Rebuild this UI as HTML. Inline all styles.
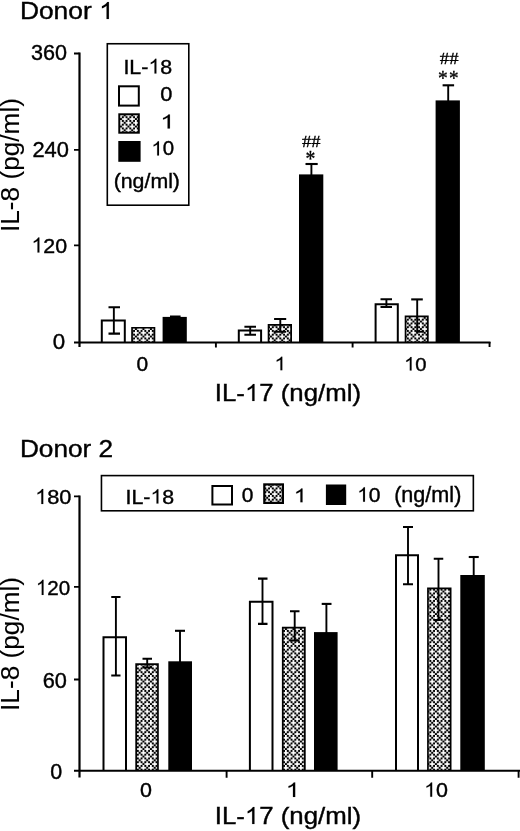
<!DOCTYPE html>
<html><head><meta charset="utf-8"><title>Figure</title>
<style>
html,body{margin:0;padding:0;background:#fff}
svg{display:block;filter:grayscale(1) blur(0.35px)}
text{font-family:"Liberation Sans",sans-serif;fill:#000;stroke:#000;stroke-width:0.4px}
.yl text{stroke-width:0.08px}
text.s{font-family:"Liberation Serif",serif;stroke-width:0.35px}
</style></head><body>
<svg width="520" height="831" viewBox="0 0 520 831">
<defs>
<pattern id="pt" width="7.5" height="7.5" patternUnits="userSpaceOnUse">
<rect width="7.5" height="7.5" fill="#fff"/><rect x="1.775" y="-0.100" width="2.075" height="2.075" fill="#000"/><rect x="5.525" y="-0.100" width="2.075" height="2.075" fill="#000"/><rect x="3.650" y="1.775" width="2.075" height="2.075" fill="#000"/><rect x="1.775" y="3.650" width="2.075" height="2.075" fill="#000"/><rect x="5.525" y="3.650" width="2.075" height="2.075" fill="#000"/><rect x="-0.100" y="5.525" width="2.075" height="2.075" fill="#000"/><rect x="7.400" y="5.525" width="0.100" height="2.075" fill="#000"/><rect x="1.775" y="7.400" width="2.075" height="0.100" fill="#000"/><rect x="5.525" y="7.400" width="2.075" height="0.100" fill="#000"/>
</pattern>
</defs>
<rect width="520" height="831" fill="#fff"/>
<g transform="translate(19.89,19.06) scale(1.1112,1)"><text x="0.00" y="0" font-size="23.74">Donor</text><path transform="translate(71.25,0) scale(0.01159)" d="M763 0H583V-1147Q518 -1085 412.5 -1023Q307 -961 223 -930V-1104Q374 -1175 487 -1276Q600 -1377 647 -1472H763Z" fill="#000" stroke="#000" stroke-width="10.4"/></g>
<rect x="101.80" y="320.60" width="23.00" height="21.40" fill="#fff"/>
<path d="M101.80 342.0V320.60H124.80V342.0" fill="none" stroke="#000" stroke-width="2.0"/>
<path d="M113.85 307.3V333.65" stroke="#000" stroke-width="1.9" fill="none"/>
<path d="M108.5 307.3H120M108.5 333.65H120" stroke="#000" stroke-width="2.1" fill="none"/>
<rect x="132.05" y="327.75" width="22.40" height="14.25" fill="url(#pt)"/>
<path d="M132.05 342.0V327.75H154.45V342.0" fill="none" stroke="#000" stroke-width="1.7"/>
<rect x="162.60" y="316.90" width="24.20" height="25.10" fill="#000"/>
<path d="M170 316.3H180.6" stroke="#000" stroke-width="1.6"/>
<rect x="238.80" y="330.50" width="22.30" height="11.50" fill="#fff"/>
<path d="M238.80 342.0V330.50H261.10V342.0" fill="none" stroke="#000" stroke-width="2.0"/>
<path d="M250.2 326.7V334.8" stroke="#000" stroke-width="1.9" fill="none"/>
<path d="M244.4 326.7H256M244.4 334.8H256" stroke="#000" stroke-width="2.1" fill="none"/>
<rect x="268.55" y="324.95" width="22.60" height="17.05" fill="url(#pt)"/>
<path d="M268.55 342.0V324.95H291.15V342.0" fill="none" stroke="#000" stroke-width="1.7"/>
<path d="M280.3 319V331.8" stroke="#000" stroke-width="1.9" fill="none"/>
<path d="M274.1 319H286.2M274.1 331.8H286.2" stroke="#000" stroke-width="2.1" fill="none"/>
<rect x="299.00" y="174.40" width="24.30" height="167.60" fill="#000"/>
<path d="M311.4 164V175" stroke="#000" stroke-width="1.9" fill="none"/>
<path d="M305.5 164H317.7" stroke="#000" stroke-width="2.1" fill="none"/>
<rect x="375.60" y="304.20" width="22.20" height="37.80" fill="#fff"/>
<path d="M375.60 342.0V304.20H397.80V342.0" fill="none" stroke="#000" stroke-width="2.0"/>
<path d="M386.4 299.3V307" stroke="#000" stroke-width="1.9" fill="none"/>
<path d="M380.5 299.3H392M380.5 307H392" stroke="#000" stroke-width="2.1" fill="none"/>
<rect x="405.55" y="316.35" width="22.30" height="25.65" fill="url(#pt)"/>
<path d="M405.55 342.0V316.35H427.85V342.0" fill="none" stroke="#000" stroke-width="1.7"/>
<path d="M417.2 299.4V332.2" stroke="#000" stroke-width="1.9" fill="none"/>
<path d="M411.2 299.4H422.8" stroke="#000" stroke-width="2.1" fill="none"/>
<path d="M416.3 331.7H423.8" stroke="#000" stroke-width="2"/>
<rect x="435.60" y="100.40" width="24.30" height="241.60" fill="#000"/>
<path d="M448.2 85.3V101" stroke="#000" stroke-width="1.9" fill="none"/>
<path d="M442.6 85.3H454.1" stroke="#000" stroke-width="2.1" fill="none"/>
<path d="M79.5 52.5V347" stroke="#000" stroke-width="2.2" fill="none"/>
<path d="M74 342.55H490.5" stroke="#000" stroke-width="2.05" fill="none"/>
<path d="M74 53.5H79.5M74 149.9H79.5M74 245.4H79.5" stroke="#000" stroke-width="1.8" fill="none"/>
<path d="M215.9 342.0V347.4M352.6 342.0V347.4M489.55 342.0V346.9" stroke="#000" stroke-width="1.9" fill="none"/>
<g transform="translate(31.09,60.38) scale(0.9942,1)"><text x="0.00" y="0" font-size="21.70">360</text></g>
<g transform="translate(32.41,157.28) scale(1.0160,1)"><text x="0.00" y="0" font-size="21.55">240</text></g>
<g transform="translate(31.42,252.54) scale(1.0219,1)"><path transform="translate(0.00,0) scale(0.01022)" d="M763 0H583V-1147Q518 -1085 412.5 -1023Q307 -961 223 -930V-1104Q374 -1175 487 -1276Q600 -1377 647 -1472H763Z" fill="#000" stroke="#000" stroke-width="11.7"/><text x="11.64" y="0" font-size="20.93">20</text></g>
<g transform="translate(52.86,349.29) scale(1.0520,1)"><text x="0.00" y="0" font-size="21.20">0</text></g>
<g class="yl" transform="translate(19.36,232.03) rotate(-90) scale(1.0189,1)"><text x="0.00" y="0" font-size="25.74">IL-8 (pg/ml)</text></g>
<rect x="107.3" y="43.75" width="81.5" height="161.45" fill="#fff" stroke="#000" stroke-width="1.6"/>
<g transform="translate(123.42,73.54) scale(1.0371,1)"><text x="0.00" y="0" font-size="20.65">IL-</text><path transform="translate(24.10,0) scale(0.01008)" d="M763 0H583V-1147Q518 -1085 412.5 -1023Q307 -961 223 -930V-1104Q374 -1175 487 -1276Q600 -1377 647 -1472H763Z" fill="#000" stroke="#000" stroke-width="11.9"/><text x="35.59" y="0" font-size="20.65">8</text></g>
<rect x="119.0" y="86.3" width="19.80" height="19.30" fill="#fff" stroke="#000" stroke-width="2.0"/>
<rect x="119.3" y="114.3" width="19.50" height="18.40" fill="url(#pt)" stroke="#000" stroke-width="2.0"/>
<rect x="118.3" y="141" width="22.30" height="20.80" fill="#000"/>
<g transform="translate(160.33,101.19) scale(1.0483,1)"><text x="0.00" y="0" font-size="20.78">0</text></g>
<g transform="translate(160.15,128.40) scale(1.3532,1)"><path transform="translate(0.00,0) scale(0.00944)" d="M763 0H583V-1147Q518 -1085 412.5 -1023Q307 -961 223 -930V-1104Q374 -1175 487 -1276Q600 -1377 647 -1472H763Z" fill="#000" stroke="#000" stroke-width="12.7"/></g>
<g transform="translate(151.38,155.40) scale(1.0406,1)"><path transform="translate(0.00,0) scale(0.00958)" d="M763 0H583V-1147Q518 -1085 412.5 -1023Q307 -961 223 -930V-1104Q374 -1175 487 -1276Q600 -1377 647 -1472H763Z" fill="#000" stroke="#000" stroke-width="12.5"/><text x="10.91" y="0" font-size="19.62">0</text></g>
<g transform="translate(113.67,188.47) scale(1.0457,1)"><text x="0.00" y="0" font-size="20.38">(ng/ml)</text></g>
<text class="s" transform="translate(302.08,146.50) scale(1.0415,1)" font-size="17.71">##</text>
<text class="s" transform="translate(305.51,165.99) scale(0.8745,1)" font-size="22.59">*</text>
<text class="s" transform="translate(439.87,64.20) scale(1.0624,1)" font-size="17.56">##</text>
<text class="s" transform="translate(437.92,84.86) scale(0.8958,1)" font-size="21.77">*</text>
<text class="s" transform="translate(448.94,84.86) scale(0.8843,1)" font-size="21.77">*</text>
<g transform="translate(136.46,370.60) scale(1.0508,1)"><text x="0.00" y="0" font-size="19.93">0</text></g>
<g transform="translate(274.39,370.20) scale(1.1308,1)"><path transform="translate(0.00,0) scale(0.00917)" d="M763 0H583V-1147Q518 -1085 412.5 -1023Q307 -961 223 -930V-1104Q374 -1175 487 -1276Q600 -1377 647 -1472H763Z" fill="#000" stroke="#000" stroke-width="13.1"/></g>
<g transform="translate(404.05,370.56) scale(1.0712,1)"><path transform="translate(0.00,0) scale(0.00921)" d="M763 0H583V-1147Q518 -1085 412.5 -1023Q307 -961 223 -930V-1104Q374 -1175 487 -1276Q600 -1377 647 -1472H763Z" fill="#000" stroke="#000" stroke-width="13.0"/><text x="10.49" y="0" font-size="18.87">0</text></g>
<g transform="translate(214.81,401.06) scale(1.0834,1)"><text x="0.00" y="0" font-size="23.81">IL-</text><path transform="translate(27.78,0) scale(0.01162)" d="M763 0H583V-1147Q518 -1085 412.5 -1023Q307 -961 223 -930V-1104Q374 -1175 487 -1276Q600 -1377 647 -1472H763Z" fill="#000" stroke="#000" stroke-width="10.3"/><text x="41.02" y="0" font-size="23.81">7 (ng/ml)</text></g>
<g transform="translate(19.91,456.51) scale(1.0883,1)"><text x="0.00" y="0" font-size="24.10">Donor 2</text></g>
<rect x="103.50" y="637.30" width="22.50" height="133.20" fill="#fff"/>
<path d="M103.50 770.5V637.30H126.00V770.5" fill="none" stroke="#000" stroke-width="2.0"/>
<path d="M115.9 597V675.5" stroke="#000" stroke-width="1.9" fill="none"/>
<path d="M111.25 597H120.5M111.25 675.5H120.5" stroke="#000" stroke-width="2.1" fill="none"/>
<rect x="136.15" y="664.15" width="21.80" height="106.35" fill="url(#pt)"/>
<path d="M136.15 770.5V664.15H157.95V770.5" fill="none" stroke="#000" stroke-width="1.7"/>
<path d="M147.2 658.8V667.5" stroke="#000" stroke-width="1.9" fill="none"/>
<path d="M142.5 658.8H152M142.5 667.5H152" stroke="#000" stroke-width="2.1" fill="none"/>
<rect x="168.30" y="661.30" width="23.70" height="109.20" fill="#000"/>
<path d="M180 630.8V662" stroke="#000" stroke-width="1.9" fill="none"/>
<path d="M175 630.8H185" stroke="#000" stroke-width="2.1" fill="none"/>
<rect x="249.90" y="601.70" width="22.60" height="168.80" fill="#fff"/>
<path d="M249.90 770.5V601.70H272.50V770.5" fill="none" stroke="#000" stroke-width="2.0"/>
<path d="M262.5 578.6V623.9" stroke="#000" stroke-width="1.9" fill="none"/>
<path d="M258 578.6H267.5M258 623.9H267.5" stroke="#000" stroke-width="2.1" fill="none"/>
<rect x="282.75" y="627.65" width="22.10" height="142.85" fill="url(#pt)"/>
<path d="M282.75 770.5V627.65H304.85V770.5" fill="none" stroke="#000" stroke-width="1.7"/>
<path d="M294.7 611.3V640.5" stroke="#000" stroke-width="1.9" fill="none"/>
<path d="M290 611.3H299.5M290 640.5H299.5" stroke="#000" stroke-width="2.1" fill="none"/>
<rect x="314.00" y="632.10" width="23.60" height="138.40" fill="#000"/>
<path d="M326.4 603.9V633" stroke="#000" stroke-width="1.9" fill="none"/>
<path d="M321.7 603.9H331.5" stroke="#000" stroke-width="2.1" fill="none"/>
<rect x="396.00" y="555.30" width="22.00" height="215.20" fill="#fff"/>
<path d="M396.00 770.5V555.30H418.00V770.5" fill="none" stroke="#000" stroke-width="2.0"/>
<path d="M408 527V584.3" stroke="#000" stroke-width="1.9" fill="none"/>
<path d="M403 527H413M403 584.3H413" stroke="#000" stroke-width="2.1" fill="none"/>
<rect x="427.95" y="588.45" width="22.70" height="182.05" fill="url(#pt)"/>
<path d="M427.95 770.5V588.45H450.65V770.5" fill="none" stroke="#000" stroke-width="1.7"/>
<path d="M438.5 558.8V620" stroke="#000" stroke-width="1.9" fill="none"/>
<path d="M433.75 558.8H443.25M433.75 620H443.25" stroke="#000" stroke-width="2.1" fill="none"/>
<rect x="460.30" y="575.00" width="24.50" height="195.50" fill="#000"/>
<path d="M473.7 557V576" stroke="#000" stroke-width="1.9" fill="none"/>
<path d="M468.75 557H478.75" stroke="#000" stroke-width="2.1" fill="none"/>
<path d="M79.5 495.4V777.5" stroke="#000" stroke-width="2.2" fill="none"/>
<path d="M74 770.75H520" stroke="#000" stroke-width="2.05" fill="none"/>
<path d="M74 496.4H79.5M74 586.85H79.5M74 679.5H79.5" stroke="#000" stroke-width="1.8" fill="none"/>
<path d="M226.6 770.5V777.8M372.2 770.5V777.8M518.6 770.5V777.7" stroke="#000" stroke-width="1.9" fill="none"/>
<g transform="translate(35.13,504.04) scale(1.0340,1)"><path transform="translate(0.00,0) scale(0.01028)" d="M763 0H583V-1147Q518 -1085 412.5 -1023Q307 -961 223 -930V-1104Q374 -1175 487 -1276Q600 -1377 647 -1472H763Z" fill="#000" stroke="#000" stroke-width="11.7"/><text x="11.71" y="0" font-size="21.06">80</text></g>
<g transform="translate(35.86,594.89) scale(0.9778,1)"><path transform="translate(0.00,0) scale(0.01028)" d="M763 0H583V-1147Q518 -1085 412.5 -1023Q307 -961 223 -930V-1104Q374 -1175 487 -1276Q600 -1377 647 -1472H763Z" fill="#000" stroke="#000" stroke-width="11.7"/><text x="11.71" y="0" font-size="21.06">20</text></g>
<g transform="translate(42.66,687.53) scale(1.0095,1)"><text x="0.00" y="0" font-size="21.55">60</text></g>
<g transform="translate(50.14,778.69) scale(1.0125,1)"><text x="0.00" y="0" font-size="21.20">0</text></g>
<g class="yl" transform="translate(19.36,710.93) rotate(-90) scale(1.0189,1)"><text x="0.00" y="0" font-size="25.74">IL-8 (pg/ml)</text></g>
<rect x="101.45" y="475.6" width="371.9" height="35.2" fill="#fff" stroke="#000" stroke-width="1.6"/>
<g transform="translate(125.53,503.55) scale(1.0729,1)"><text x="0.00" y="0" font-size="19.90">IL-</text><path transform="translate(23.22,0) scale(0.00972)" d="M763 0H583V-1147Q518 -1085 412.5 -1023Q307 -961 223 -930V-1104Q374 -1175 487 -1276Q600 -1377 647 -1472H763Z" fill="#000" stroke="#000" stroke-width="12.4"/><text x="34.29" y="0" font-size="19.90">8</text></g>
<rect x="212.4" y="486.0" width="19.60" height="18.50" fill="#fff" stroke="#000" stroke-width="2.0"/>
<rect x="264.3" y="484.40000000000003" width="18.60" height="18.50" fill="url(#pt)" stroke="#000" stroke-width="2.2"/>
<rect x="325.9" y="484.5" width="20.30" height="20.50" fill="#000"/>
<g transform="translate(241.66,502.05) scale(1.0398,1)"><text x="0.00" y="0" font-size="20.14">0</text></g>
<g transform="translate(293.67,502.25) scale(1.2391,1)"><path transform="translate(0.00,0) scale(0.00934)" d="M763 0H583V-1147Q518 -1085 412.5 -1023Q307 -961 223 -930V-1104Q374 -1175 487 -1276Q600 -1377 647 -1472H763Z" fill="#000" stroke="#000" stroke-width="12.8"/></g>
<g transform="translate(357.11,501.65) scale(1.0539,1)"><path transform="translate(0.00,0) scale(0.00975)" d="M763 0H583V-1147Q518 -1085 412.5 -1023Q307 -961 223 -930V-1104Q374 -1175 487 -1276Q600 -1377 647 -1472H763Z" fill="#000" stroke="#000" stroke-width="12.3"/><text x="11.10" y="0" font-size="19.97">0</text></g>
<g transform="translate(394.15,501.78) scale(0.9926,1)"><text x="0.00" y="0" font-size="21.77">(ng/ml)</text></g>
<g transform="translate(140.04,796.69) scale(1.0402,1)"><text x="0.00" y="0" font-size="20.64">0</text></g>
<g transform="translate(285.73,796.90) scale(1.2683,1)"><path transform="translate(0.00,0) scale(0.00978)" d="M763 0H583V-1147Q518 -1085 412.5 -1023Q307 -961 223 -930V-1104Q374 -1175 487 -1276Q600 -1377 647 -1472H763Z" fill="#000" stroke="#000" stroke-width="12.3"/></g>
<g transform="translate(424.16,796.70) scale(1.0858,1)"><path transform="translate(0.00,0) scale(0.00965)" d="M763 0H583V-1147Q518 -1085 412.5 -1023Q307 -961 223 -930V-1104Q374 -1175 487 -1276Q600 -1377 647 -1472H763Z" fill="#000" stroke="#000" stroke-width="12.4"/><text x="10.99" y="0" font-size="19.76">0</text></g>
<g transform="translate(214.71,824.06) scale(1.0842,1)"><text x="0.00" y="0" font-size="23.81">IL-</text><path transform="translate(27.78,0) scale(0.01162)" d="M763 0H583V-1147Q518 -1085 412.5 -1023Q307 -961 223 -930V-1104Q374 -1175 487 -1276Q600 -1377 647 -1472H763Z" fill="#000" stroke="#000" stroke-width="10.3"/><text x="41.02" y="0" font-size="23.81">7 (ng/ml)</text></g>
</svg></body></html>
